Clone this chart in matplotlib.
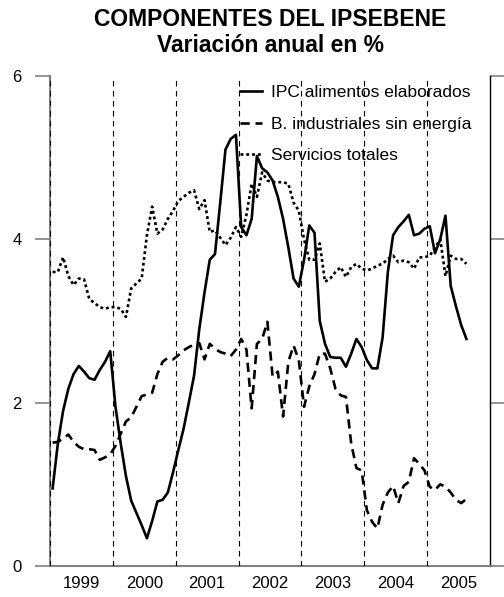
import matplotlib
matplotlib.use("Agg")
import matplotlib.pyplot as plt
import numpy as np
import pandas as pd

plt.rcParams['font.family'] = ['Liberation Sans', 'DejaVu Sans']

# monthly series, Jan 1999 - Aug 2005 (annual % change)
ipc_alimentos = [
    0.95, 1.50, 1.90, 2.17, 2.35, 2.45, 2.38, 2.30, 2.28, 2.40, 2.50, 2.63,
    1.95, 1.50, 1.10, 0.80, 0.65, 0.50, 0.34, 0.55, 0.79, 0.81, 0.90, 1.15,
    1.42, 1.68, 2.00, 2.33, 2.90, 3.35, 3.75, 3.82, 4.45, 5.10, 5.23, 5.28,
    4.15, 4.05, 4.25, 5.02, 4.87, 4.82, 4.72, 4.52, 4.25, 3.90, 3.52, 3.42,
    3.75, 4.17, 4.08, 3.00, 2.72, 2.56, 2.55, 2.55, 2.44, 2.60, 2.78, 2.68,
    2.52, 2.42, 2.42, 2.80, 3.60, 4.05, 4.15, 4.22, 4.30, 4.05, 4.07, 4.13,
    4.16, 3.83, 4.00, 4.29, 3.43, 3.18, 2.95, 2.78,
]
bienes_industriales = [
    1.51, 1.52, 1.56, 1.61, 1.52, 1.46, 1.43, 1.43, 1.42, 1.30, 1.33, 1.37,
    1.47, 1.62, 1.77, 1.82, 1.95, 2.08, 2.10, 2.12, 2.35, 2.50, 2.55, 2.53,
    2.58, 2.64, 2.68, 2.71, 2.73, 2.53, 2.72, 2.66, 2.62, 2.60, 2.57, 2.65,
    2.78, 2.65, 1.93, 2.72, 2.78, 2.99, 2.32, 2.38, 1.83, 2.50, 2.70, 2.52,
    1.95, 2.20, 2.35, 2.60, 2.60, 2.42, 2.17, 2.09, 2.07, 1.50, 1.20, 1.17,
    0.68, 0.54, 0.46, 0.75, 0.90, 0.98, 0.77, 0.98, 1.03, 1.32, 1.25, 1.17,
    0.97, 0.93, 1.00, 0.97, 0.90, 0.81, 0.77, 0.82,
]
servicios = [
    3.60, 3.60, 3.78, 3.55, 3.44, 3.52, 3.51, 3.27, 3.22, 3.17, 3.15, 3.17,
    3.17, 3.15, 3.05, 3.40, 3.46, 3.52, 4.05, 4.40, 4.07, 4.12, 4.25, 4.35,
    4.47, 4.52, 4.57, 4.60, 4.37, 4.48, 4.09, 4.11, 4.02, 3.93, 4.02, 4.15,
    4.03, 4.30, 4.68, 4.52, 4.82, 4.72, 4.70, 4.70, 4.70, 4.68, 4.45, 4.35,
    4.00, 3.75, 3.75, 3.95, 3.48, 3.52, 3.60, 3.66, 3.54, 3.66, 3.70, 3.64,
    3.62, 3.64, 3.68, 3.70, 3.76, 3.80, 3.72, 3.74, 3.72, 3.64, 3.78, 3.78,
    3.80, 3.90, 4.00, 3.55, 3.80, 3.76, 3.76, 3.70,
]
years = [1999, 2000, 2001, 2002, 2003, 2004, 2005]
labels = ['IPC alimentos elaborados', 'B. industriales sin energía',
          'Servicios totales']

# each month sits in the middle of its slot on a decimal-year axis
fechas = pd.date_range('1999-01-01', periods=len(ipc_alimentos), freq='MS')
x = fechas.year + (fechas.month - 0.5) / 12

fig = plt.figure(figsize=(5.04, 5.97), dpi=100)
ax = fig.add_axes([50/504, 31/597, 440/504, 490/597])

ax.plot(x, ipc_alimentos, color='black', lw=1.9, label=labels[0])
ax.plot(x, bienes_industriales, color='black', lw=1.9, dashes=(3.5, 2.2),
        label=labels[1])
ax.plot(x, servicios, color='black', lw=1.9, dashes=(1.1, 1.1),
        label=labels[2])

# year separators
for yr in years:
    ax.axvline(yr, color='black', lw=0.8, dashes=(5, 4), zorder=3)

ax.set_xlim(1999, 2006)
ax.set_ylim(0, 6)

ax.set_yticks([0, 2, 4, 6])
ax.tick_params(axis='y', direction='out', length=10.5, width=1.2,
               color='#808080', labelsize=12, pad=10,
               right=True, labelright=False)

ax.set_xticks(years, minor=False)
ax.set_xticklabels([])
ax.set_xticks([yr + 0.5 for yr in years], minor=True)
ax.set_xticklabels([str(yr) for yr in years], minor=True)
ax.tick_params(axis='x', which='both', length=0, labelsize=12, pad=7)

ax.spines['top'].set_visible(False)
ax.spines['left'].set_color('#808080')
ax.spines['left'].set_linewidth(1.5)
ax.spines['bottom'].set_color('#808080')
ax.spines['bottom'].set_linewidth(1.5)
ax.spines['right'].set_color('black')
ax.spines['right'].set_linewidth(1.0)

ax.legend(loc='upper left', bbox_to_anchor=(0.432, 0.982), frameon=False,
          fontsize=12.5, handlelength=1.25, handletextpad=0.55,
          labelspacing=0.95, borderpad=0, borderaxespad=0)

fig.text(0.536, 1 - 20/597, 'COMPONENTES DEL IPSEBENE', ha='center',
         va='center', fontsize=16.5, fontweight='bold')
fig.text(0.536, 1 - 46/597, 'Variación anual en %', ha='center',
         va='center', fontsize=16.5, fontweight='bold')

fig.savefig('out.png', dpi=100)
